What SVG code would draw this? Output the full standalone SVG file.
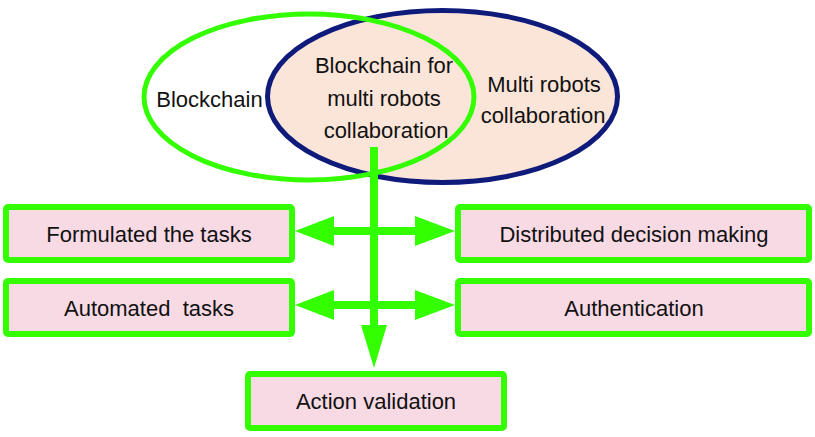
<svg xmlns="http://www.w3.org/2000/svg" width="815" height="437" viewBox="0 0 815 437">
<style>
  text { font-family: "Liberation Sans", Arial, sans-serif; font-size: 22px; fill: #111; text-anchor: middle; }
  .box { fill: #F8DAE5; stroke: #33FF00; stroke-width: 6; }
  .arrow { fill: #33FF00; stroke: none; }
</style>
<rect width="815" height="437" fill="#ffffff"/>
<g id="venn">
  <ellipse id="robots-ellipse" cx="442.5" cy="96.5" rx="175" ry="86" fill="#FBE5D8" stroke="#0F1B7A" stroke-width="5"/>
  <ellipse id="blockchain-ellipse" cx="309" cy="97" rx="165" ry="83" fill="none" stroke="#33FF00" stroke-width="5"/>
  <text x="209.5" y="107">Blockchain</text>
  <text x="384" y="73">Blockchain for</text>
  <text x="384" y="106">multi robots</text>
  <text x="386" y="138">collaboration</text>
  <text x="544" y="92">Multi robots</text>
  <text x="543" y="123">collaboration</text>
</g>
<g id="connectors">
  <rect class="arrow" x="370" y="147" width="8" height="190"/>
  <polygon class="arrow" points="361,325 387,325 374,368"/>
  <rect class="arrow" x="330" y="227" width="88" height="8"/>
  <polygon class="arrow" points="295,231 334,216 334,246"/>
  <polygon class="arrow" points="455,231 415,216 415,246"/>
  <rect class="arrow" x="330" y="301" width="88" height="8"/>
  <polygon class="arrow" points="295,305 334,290 334,320"/>
  <polygon class="arrow" points="455,305 415,290 415,320"/>
</g>
<g id="formulated">
  <rect class="box" x="6" y="207" width="286" height="53" rx="2"/>
  <text x="149" y="242">Formulated the tasks</text>
</g>
<g id="distributed">
  <rect class="box" x="458" y="207" width="351" height="53" rx="2"/>
  <text x="634" y="242">Distributed decision making</text>
</g>
<g id="automated">
  <rect class="box" x="6" y="281" width="286" height="53" rx="2"/>
  <text x="149" y="316" xml:space="preserve">Automated  tasks</text>
</g>
<g id="authentication">
  <rect class="box" x="458" y="281" width="351" height="53" rx="2"/>
  <text x="634" y="316">Authentication</text>
</g>
<g id="action">
  <rect class="box" x="248" y="374" width="256" height="54" rx="2"/>
  <text x="376" y="409">Action validation</text>
</g>
</svg>
